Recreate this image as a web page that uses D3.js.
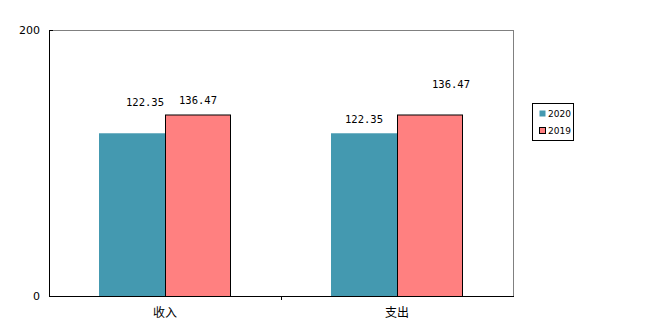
<!DOCTYPE html>
<html><head><meta charset="utf-8">
<script src="https://cdn.jsdelivr.net/npm/d3@7"></script>
<style>body{margin:0;background:#fff}svg{display:block}</style>
</head><body>
<svg id="c" width="649" height="327"></svg>
<script>
const categories = ["收入", "支出"];
const seriesNames = ["2020", "2019"];
const values2020 = [122.35, 122.35];
const values2019 = [136.47, 136.47];
const yTicks = [0, 200];
// label offsets (style only): [dx, dy] per category
const labelOffsets2020 = [[13, -27], [0, -10]];
const labelOffsets2019 = [[0, -10.5], [21, -26.5]];

const colors = {"2020": "#4499b0", "2019": "#ff8080"};
const svg = d3.select("#c");
const L = 49, R = 513, T = 30, B = 296;
const x0 = d3.scaleBand().domain(categories).range([L, R]);
const x1 = d3.scaleBand().domain(seriesNames).range([0, 132]);
const y = d3.scaleLinear().domain([0, 200]).range([B, T]);

// frame
svg.append("line").attr("x1", L).attr("x2", R + 0.5).attr("y1", T + 0.5).attr("y2", T + 0.5).attr("stroke", "#808080");
svg.append("line").attr("x1", R + 0.5).attr("x2", R + 0.5).attr("y1", T).attr("y2", B).attr("stroke", "#808080");

const data = seriesNames.map((s, i) => ({name: s, vals: i === 0 ? values2020 : values2019, offs: i === 0 ? labelOffsets2020 : labelOffsets2019}));

categories.forEach((c, ci) => {
  const gx = x0(c) + (x0.bandwidth() - 132) / 2;
  data.forEach(d => {
    const v = d.vals[ci];
    const bx = gx + x1(d.name);
    svg.append("rect")
      .attr("x", bx + (d.name === "2019" ? 0.5 : 0))
      .attr("y", y(v) + (d.name === "2019" ? 0.5 : 0))
      .attr("width", x1.bandwidth() - (d.name === "2019" ? 1 : 0))
      .attr("height", B - y(v))
      .attr("fill", colors[d.name])
      .attr("stroke", d.name === "2019" ? "#000" : "none");
    svg.append("text")
      .attr("x", bx + x1.bandwidth() / 2 + d.offs[ci][0])
      .attr("y", y(v) + d.offs[ci][1])
      .attr("text-anchor", "middle")
      .attr("font-family", "DejaVu Sans Mono, Liberation Mono, monospace")
      .attr("font-size", 10.5)
      .attr("fill", "#000")
      .text(v.toFixed(2));
  });
});

// left axis
svg.append("line").attr("x1", L + 0.5).attr("x2", L + 0.5).attr("y1", T).attr("y2", B + 1).attr("stroke", "#000");
svg.append("line").attr("x1", L).attr("x2", L + 4).attr("y1", T + 0.5).attr("y2", T + 0.5).attr("stroke", "#000");
// bottom axis
svg.append("line").attr("x1", L).attr("x2", R + 1).attr("y1", B + 0.5).attr("y2", B + 0.5).attr("stroke", "#000");
svg.append("line").attr("x1", x0(categories[1]) + 0.5).attr("x2", x0(categories[1]) + 0.5).attr("y1", B).attr("y2", B + 4).attr("stroke", "#000");

yTicks.forEach(t => {
  svg.append("text").attr("x", 40).attr("y", y(t) + 4)
    .attr("text-anchor", "end").attr("font-family", "DejaVu Sans, sans-serif").attr("font-size", 11)
    .text(t);
});

categories.forEach(c => {
  svg.append("text").attr("x", x0(c) + x0.bandwidth() / 2).attr("y", 317)
    .attr("text-anchor", "middle").attr("font-family", "Noto Sans CJK SC").attr("font-size", 12)
    .text(c);
});

// legend
const lg = svg.append("g");
lg.append("rect").attr("x", 532.5).attr("y", 103.5).attr("width", 41).attr("height", 37).attr("fill", "#fff").attr("stroke", "#000");
seriesNames.forEach((s, i) => {
  const yy = 110 + i * 17;
  lg.append("rect").attr("x", 539.5).attr("y", yy + 0.5).attr("width", 6).attr("height", 6)
    .attr("fill", colors[s]).attr("stroke", s === "2019" ? "#000" : "none");
  lg.append("text").attr("x", 548).attr("y", yy + 7).attr("font-family", "DejaVu Sans, sans-serif").attr("font-size", 9).text(s);
});
</script>
</body></html>
